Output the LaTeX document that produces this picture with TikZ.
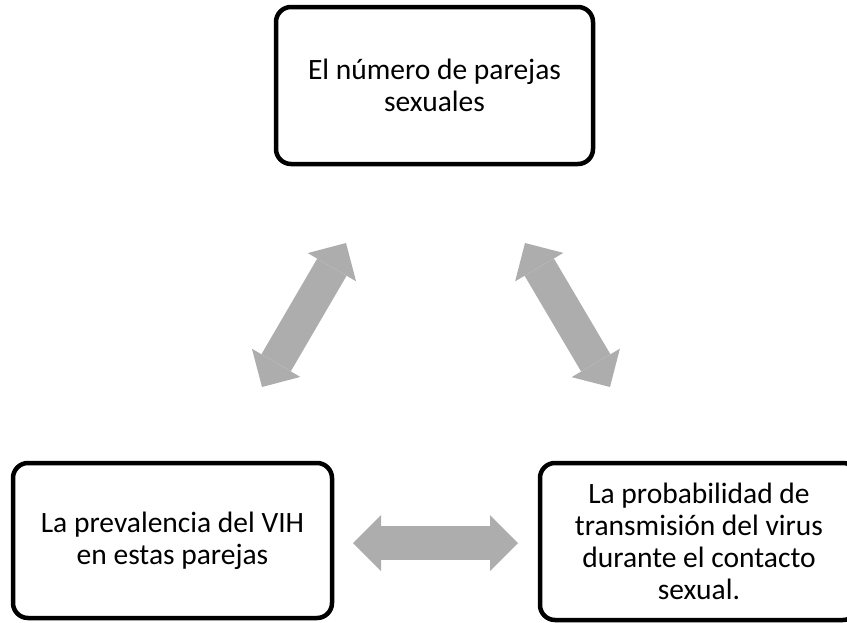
\documentclass[tikz,border=0pt]{standalone}
\usepackage{fontspec}
\setmainfont{Carlito}
\usetikzlibrary{arrows.meta}
\definecolor{arrowgray}{HTML}{ADADAD}
\begin{document}
\begin{tikzpicture}[x=1pt,y=-1pt,
  box/.style={draw=black, line width=4.5pt, rounded corners=15pt, fill=white,
    align=center, inner sep=0pt, font=\fontsize{29.5}{32}\selectfont},
  dbl/.style={draw=arrowgray, line width=34pt,
    {Triangle[length=28pt,width=56pt,line width=0pt]}-{Triangle[length=28pt,width=56pt,line width=0pt]}}]
\useasboundingbox (0,0) rectangle (847,622);
\node[box, minimum width=317pt, minimum height=157pt] (top) at (434.5,85.5)
  {El número de parejas\\sexuales};
\node[box, minimum width=319pt, minimum height=155pt] (left) at (172.5,540.5)
  {La prevalencia del VIH\\en estas parejas};
\node[box, minimum width=318pt, minimum height=157pt] (right) at (699,541.5)
  {La probabilidad de\\transmisión del virus\\durante el contacto\\sexual.};
\coordinate (a1) at (262,387);
\coordinate (a2) at (346,243);
\coordinate (b1) at (525,243);
\coordinate (b2) at (610,387);
\coordinate (c1) at (353,543);
\coordinate (c2) at (518,543);
\draw[dbl] (a1) -- (a2);
\draw[dbl] (b1) -- (b2);
\draw[dbl] (c1) -- (c2);
\end{tikzpicture}
\end{document}
